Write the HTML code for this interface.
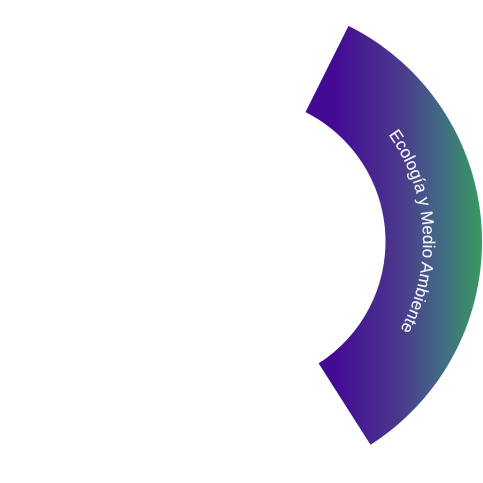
<!DOCTYPE html>
<html lang="es">
<head>
<meta charset="utf-8">
<title>Ecología y Medio Ambiente</title>
<style>
html,body{margin:0;padding:0;background:#fff;width:483px;height:483px;overflow:hidden}
svg{display:block}
text{font-family:"Liberation Sans",sans-serif;font-size:17px;fill:#f6f3fa;stroke:#f6f3fa;stroke-width:.15px}
</style>
</head>
<body>
<svg id="chart" width="483" height="483" viewBox="0 0 483 483" xmlns="http://www.w3.org/2000/svg">
  <defs>
    <linearGradient id="slice-gradient" gradientUnits="userSpaceOnUse" x1="335" y1="0" x2="482" y2="0">
      <stop offset="0" stop-color="#450a94"/>
      <stop offset="0.45" stop-color="#4a3a8c"/>
      <stop offset="0.72" stop-color="#416a85"/>
      <stop offset="1" stop-color="#39995f"/>
    </linearGradient>
    <path id="label-arc" d=""/>
  </defs>
  <path id="slice" fill="url(#slice-gradient)" d=""/>
  <text id="slice-label" text-anchor="middle"><textPath href="#label-arc" startOffset="50%">Ecología y Medio Ambiente</textPath></text>
</svg>
<script>
const sliceStartDegrees = [26.5];
const sliceEndDegrees = [147.5];

const cx = 241, cy = 241.5, innerR = 144.5, outerR = 241, labelR = 182;
function angleScale(deg) { return deg * Math.PI / 180; }
function point(r, deg) {
  const a = angleScale(deg);
  return [cx + r * Math.sin(a), cy - r * Math.cos(a)];
}
const a0 = sliceStartDegrees[0], a1 = sliceEndDegrees[0];
const large = a1 - a0 > 180 ? 1 : 0;
const p1 = point(outerR, a0), p2 = point(outerR, a1), p3 = point(innerR, a1), p4 = point(innerR, a0);
document.getElementById('slice').setAttribute('d',
  'M' + p1 + ' A' + outerR + ' ' + outerR + ' 0 ' + large + ' 1 ' + p2 +
  ' L' + p3 + ' A' + innerR + ' ' + innerR + ' 0 ' + large + ' 0 ' + p4 + ' Z');
const l1 = point(labelR, a0 - 0.5), l2 = point(labelR, a1 - 0.5);
document.getElementById('label-arc').setAttribute('d',
  'M' + l1 + ' A' + labelR + ' ' + labelR + ' 0 ' + large + ' 1 ' + l2);
</script>
</body>
</html>
